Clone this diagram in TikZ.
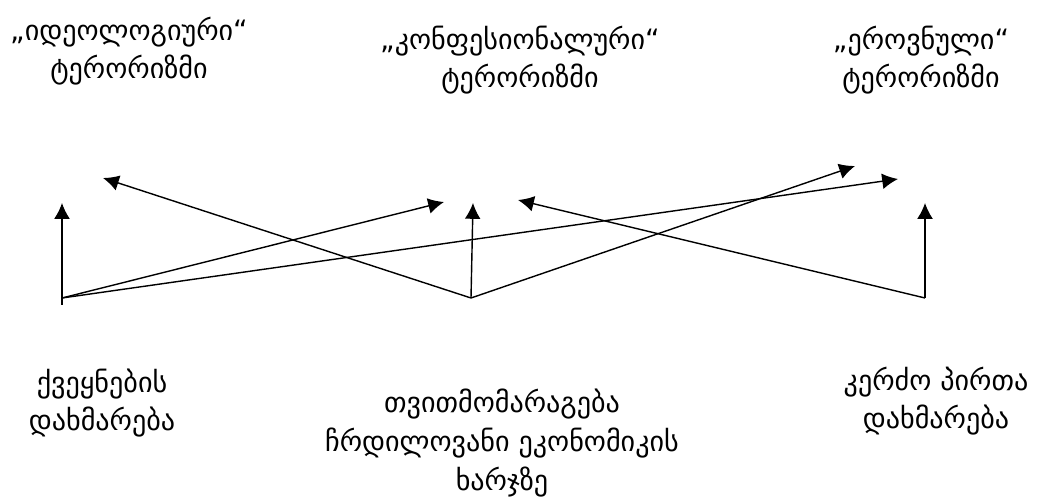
\documentclass[tikz,border=0pt]{standalone}
\usepackage{fontspec}
\setmainfont{DejaVu Sans}
\usetikzlibrary{arrows.meta}

\begin{document}
\begin{tikzpicture}[x=0.02cm, y=-0.02cm,
  lbl/.style={align=center, font=\fontsize{16}{22}\selectfont},
  arr/.style={draw, line width=0.8pt, -{Latex[length=9pt,width=9pt]}}]
\useasboundingbox (0,0) rectangle (1050,499);

% kinds of terrorism
\node[lbl] (ideo) at (129,51) {„იდეოლოგიური“\\ტერორიზმი};
\node[lbl] (konf) at (520,60) {„კონფესიონალური“\\ტერორიზმი};
\node[lbl] (erov) at (921,60) {„ეროვნული“\\ტერორიზმი};

% sources
\node[lbl] (qveq) at (102,403) {ქვეყნების\\დახმარება};
\node[lbl] (tvit) at (502,443) {თვითმომარაგება\\ჩრდილოვანი ეკონომიკის\\ხარჯზე};
\node[lbl] (kerd) at (936,401) {კერძო პირთა\\დახმარება};

\coordinate (lfoot) at (62,305);
\coordinate (lb) at (62,298);
\coordinate (mb) at (471,298);
\coordinate (rb) at (925,298);

\coordinate (lup) at (62,203);
\coordinate (mup) at (473,203);
\coordinate (rup) at (925,203);

\coordinate (toideo) at (103,178);
\coordinate (tokonfl) at (444,202);
\coordinate (tokonfr) at (518,200);
\coordinate (toerovl) at (855,166);
\coordinate (toerovr) at (898,179);

\path[arr] (lfoot) -- (lup);
\path[arr] (lb) -- (tokonfl);
\path[arr] (lb) -- (toerovr);

\path[arr] (mb) -- (toideo);
\path[arr] (mb) -- (mup);
\path[arr] (mb) -- (toerovl);

\path[arr] (rb) -- (tokonfr);
\path[arr] (rb) -- (rup);
\end{tikzpicture}
\end{document}
